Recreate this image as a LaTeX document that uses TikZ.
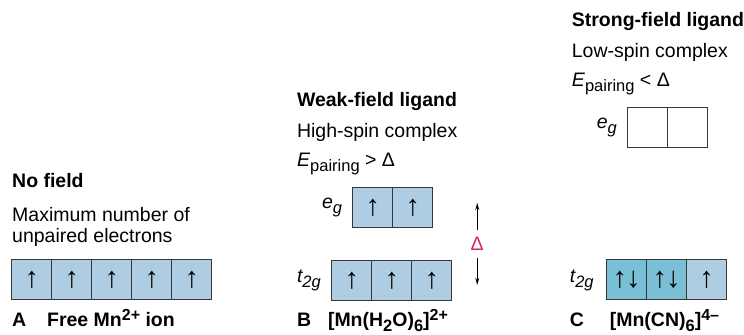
\documentclass[tikz,border=0pt]{standalone}
\usepackage{fontspec}
\setmainfont{Liberation Sans}
\usetikzlibrary{arrows.meta}

\definecolor{orbline}{RGB}{55,55,55}
\definecolor{orbblue}{RGB}{174,205,226}
\definecolor{orbteal}{RGB}{121,191,214}
\definecolor{deltared}{RGB}{214,40,90}

% 上下标：原图的上下标比默认的大
\newcommand{\lsub}[1]{\raisebox{-5pt}{\fontsize{16.5}{16.5}\selectfont #1}}
\newcommand{\lsup}[1]{\raisebox{6pt}{\fontsize{16}{16}\selectfont #1}}
\newcommand{\spinup}{{\fontsize{29}{29}\selectfont ↑}}
\newcommand{\spinpair}{{\fontsize{29}{29}\selectfont ↑\kern-1pt↓}}

\tikzset{
  orb/.style={draw=orbline, line width=1pt, minimum size=40pt, inner sep=0pt, fill=orbblue},
  orbpair/.style={orb, fill=orbteal},
  orbempty/.style={orb, fill=white},
  txt/.style={anchor=base west, inner sep=0pt},
  gaparrow/.style={line width=1pt, -{Stealth[length=7pt,width=4pt]}}
}

\begin{document}
\begin{tikzpicture}[x=1pt, y=-1pt, font=\fontsize{19.5}{23}\selectfont]

  %% ════ A：自由离子 ════
  \node[txt] (nofield) at (12,188) {\textbf{No field}};
  \node[txt] (maxnum) at (12,222) {Maximum number of};
  \node[txt] (unpaired) at (12,243) {unpaired electrons};
  \foreach \i in {1,...,5}
    \node[orb] (a\i) at (-8+40*\i,280) {\spinup};
  \node[txt] (labA) at (12,327) {\textbf{A}};
  \node[txt] (ionA) at (47,327) {\textbf{Free Mn\lsup{2+} ion}};

  %% ════ B：弱场配体（高自旋）════
  \node[txt] (weak) at (297,107) {\textbf{Weak-field ligand}};
  \node[txt] (highspin) at (297,138) {High-spin complex};
  \node[txt] (epairB) at (297,167) {\textit{E}\lsub{pairing} > Δ};
  \node[txt] (egB) at (322,209) {\textit{e\lsub{g}}};
  \foreach \i in {1,2}
    \node[orb] (beg\i) at (333+40*\i,208) {\spinup};
  \node[txt] (tgB) at (297,283) {\textit{t\lsub{2g}}};
  \foreach \i in {1,2,3}
    \node[orb] (btg\i) at (312+40*\i,281) {\spinup};

  % 分裂能 Δ
  \node[text=deltared, minimum height=28pt, inner sep=0pt] (delta) at (477.5,244) {Δ};
  \coordinate (dtop) at (477.5,203);
  \coordinate (dbot) at (477.5,285);
  \draw[gaparrow] (delta.north) -- (dtop);
  \draw[gaparrow] (delta.south) -- (dbot);

  \node[txt] (labB) at (297,327) {\textbf{B}};
  \node[txt] (ionB) at (328,327) {\textbf{[Mn(H\lsub{2}O)\lsub{6}]\lsup{2+}}};

  %% ════ C：强场配体（低自旋）════
  \node[txt] (strong) at (572,27) {\textbf{Strong-field ligand}};
  \node[txt] (lowspin) at (572,58) {Low-spin complex};
  \node[txt] (epairC) at (572,87) {\textit{E}\lsub{pairing} < Δ};
  \node[txt] (egC) at (597,129) {\textit{e\lsub{g}}};
  \foreach \i in {1,2}
    \node[orbempty] (ceg\i) at (608+40*\i,128) {};
  \node[txt] (tgC) at (570,283) {\textit{t\lsub{2g}}};
  \node[orbpair] (ctg1) at (627,280) {\spinpair};
  \node[orbpair] (ctg2) at (667,280) {\spinpair};
  \node[orb] (ctg3) at (707,280) {\spinup};
  \node[txt] (labC) at (570,327) {\textbf{C}};
  \node[txt] (ionC) at (610,327) {\textbf{[Mn(CN)\lsub{6}]\lsup{4--}}};

  % 钉死画布
  \useasboundingbox (0,0) rectangle (744,335);
\end{tikzpicture}
\end{document}
